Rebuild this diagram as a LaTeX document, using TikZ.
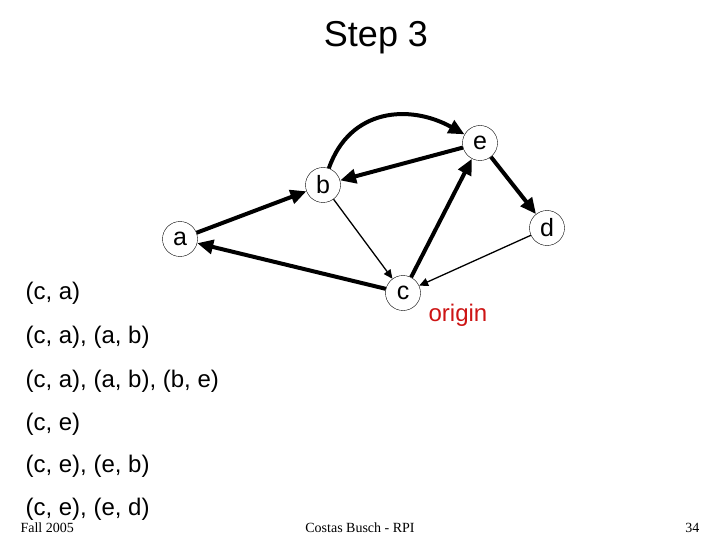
\documentclass[tikz,border=0pt]{standalone}
\usepackage{fontspec}
\setmainfont{Liberation Sans}
\newfontfamily\footfont{Liberation Serif}
\usetikzlibrary{arrows.meta}
\definecolor{originred}{RGB}{205,20,20}

\begin{document}
\begin{tikzpicture}[x=1pt,y=-1pt,
  vertex/.style={circle,draw,thin,fill=white,minimum size=35pt,inner sep=0pt,
    font=\fontsize{25}{27}\selectfont},
  heavy/.style={line width=4pt,-{Triangle[length=16pt,width=14pt]}},
  light/.style={line width=1.3pt,-{Triangle[length=9pt,width=8pt]}},
  listline/.style={anchor=west,font=\fontsize{24}{26}\selectfont},
  foot/.style={font=\footfont\fontsize{14}{16}\selectfont}]
\useasboundingbox (0,0) rectangle (720,540);
\node (title) at (376,38) {\fontsize{36}{40}\selectfont Step 3};
% graph
\node[vertex] (a) at (180,239) {a};
\node[vertex] (b) at (323,185) {b};
\node[vertex] (e) at (480,143) {e};
\node[vertex] (d) at (547,228) {d};
\node[vertex] (c) at (403,293) {c};
\node[text=originred,font=\fontsize{24}{26}\selectfont] (origin) at (458,315) {origin};
\draw[heavy] (a) -- (b);
\draw[heavy] (c) -- (a);
\draw[heavy] (c) -- (e);
\draw[heavy] (e) -- (b);
\draw[heavy] (e) -- (d);
\draw[heavy] (b) .. controls (350,108) and (410,104) .. (e);
\draw[light] (b) -- (c);
\draw[light] (d) -- (c);
% edge lists
\node[listline] (l1) at (22,293) {(c, a)};
\node[listline] (l2) at (22,337) {(c, a), (a, b)};
\node[listline] (l3) at (22,381) {(c, a), (a, b), (b, e)};
\node[listline] (l4) at (22,424) {(c, e)};
\node[listline] (l5) at (22,466) {(c, e), (e, b)};
\node[listline] (l6) at (22,509) {(c, e), (e, d)};
% footer
\node[foot,anchor=west] (fall) at (17,528) {Fall 2005};
\node[foot] (author) at (360,528) {Costas Busch - RPI};
\node[foot,anchor=east] (page) at (703,528) {34};
\end{tikzpicture}
\end{document}
